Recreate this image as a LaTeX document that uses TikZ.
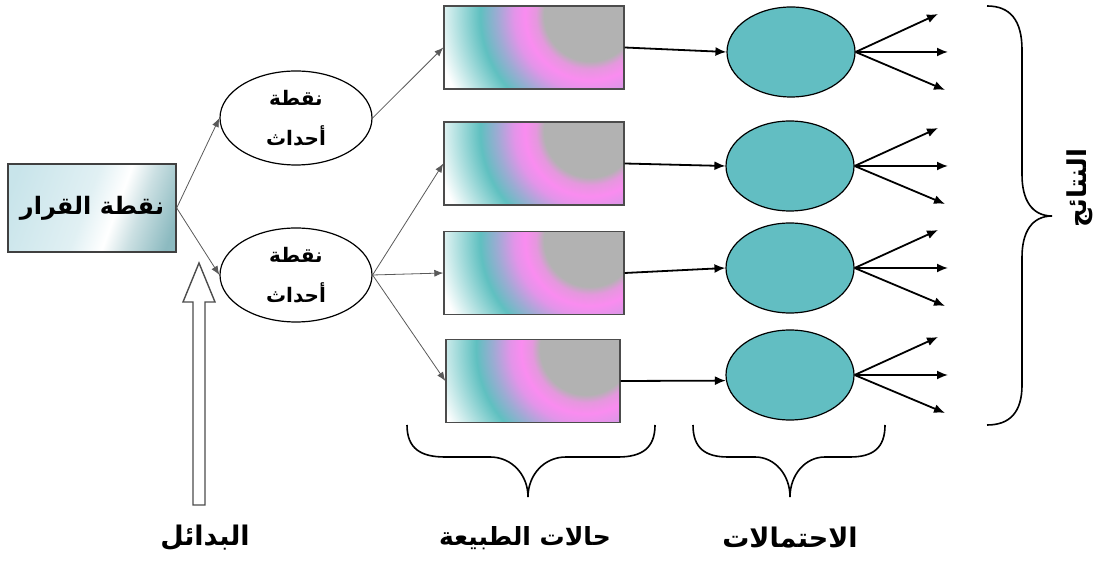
\documentclass[tikz,border=0pt]{standalone}
\usepackage{fontspec}
\TeXXeTstate=1
\newfontfamily\arabicfont[Script=Arabic]{DejaVu Sans}
\usetikzlibrary{shapes.geometric,arrows.meta,calc}
\definecolor{tealfill}{RGB}{98,190,194}
\definecolor{ringgray}{RGB}{178,178,178}
\definecolor{ringpink}{RGB}{250,140,240}
\definecolor{ringteal}{RGB}{95,192,192}
\definecolor{decA}{RGB}{200,228,234}
\definecolor{decB}{RGB}{140,186,192}
\pgfdeclareradialshading{ring}{\pgfpoint{0bp}{0bp}}{color(0bp)=(ringgray); color(4.6bp)=(ringgray); color(5.4bp)=(ringpink!70!ringgray); color(6.5bp)=(ringpink); color(7.6bp)=(ringpink!85!ringteal); color(9.3bp)=(ringpink!40!ringteal); color(11bp)=(ringteal); color(15.5bp)=(white); color(25bp)=(white)}
\pgfdeclarehorizontalshading{decshade}{100bp}{color(0bp)=(decA); color(25bp)=(decA); color(48bp)=(decA!55!white); color(57bp)=(white); color(64bp)=(decB!45!white); color(75bp)=(decB); color(100bp)=(decB)}
\begin{document}
\begin{tikzpicture}[x=0.5pt,y=-0.5pt,
  decbox/.style={draw=black!75, line width=0.7pt, minimum width=84pt, minimum height=44pt, inner sep=0pt,
    path picture={\shade[shading=decshade, shading angle=-20] ($(path picture bounding box.south west)+(-10,10)$) rectangle ($(path picture bounding box.north east)+(10,-10)$);},
    font=\arabicfont\bfseries\fontsize{12}{14}\selectfont},
  evnode/.style={ellipse, draw, line width=0.6pt, fill=white, minimum width=76pt, minimum height=47pt, inner sep=0pt, align=center, font=\arabicfont\bfseries\fontsize{10}{20}\selectfont},
  natbox/.style={draw=black!70, line width=0.7pt, minimum width=90pt, minimum height=41.5pt, inner sep=0pt,
    path picture={\shade[shading=ring] ($(path picture bounding box.north east)+(-34,9)$) ++(-250,-250) rectangle ++(500,500);}},
  probnode/.style={ellipse, draw, line width=0.6pt, fill=tealfill, minimum width=64pt, minimum height=45pt, inner sep=0pt},
  thinarrow/.style={draw=black!65, line width=0.4pt, -{Latex[length=4.5pt,width=3.5pt]}},
  thickarrow/.style={draw=black, line width=0.9pt, -{Latex[length=5.5pt,width=4.5pt]}},
  bracepath/.style={draw=black, line width=0.8pt},
  lbl/.style={font=\arabicfont\bfseries\fontsize{13.5}{16}\selectfont}]
\useasboundingbox (0,0) rectangle (1111,565);

\node[decbox] (dec) at (92,208) {\beginR نقطة القرار\endR};
\node[evnode] (e1) at (296,118) {\beginR نقطة\endR\\\beginR أحداث\endR};
\node[evnode] (e2) at (296,275) {\beginR نقطة\endR\\\beginR أحداث\endR};

\node[natbox] (r1) at (534,47.5) {};
\node[natbox] (r2) at (534,163.5) {};
\node[natbox] (r3) at (534,273) {};
\node[natbox, minimum width=87pt] (r4) at (533,381) {};

\node[probnode] (p1) at (791,52) {};
\node[probnode] (p2) at (790,166) {};
\node[probnode] (p3) at (790,268) {};
\node[probnode] (p4) at (790,375) {};

\draw[thinarrow] (dec.east) -- (e1.west);
\draw[thinarrow] (dec.east) -- (e2.west);
\draw[thinarrow] (e1.east) -- (r1.west);
\draw[thinarrow] (e2.east) -- (r2.west);
\draw[thinarrow] (e2.east) -- (r3.west);
\draw[thinarrow] (e2.east) -- (r4.west);

\draw[thickarrow] (r1.east) -- (p1.west);
\draw[thickarrow] (r2.east) -- (p2.west);
\draw[thickarrow] (r3.east) -- (p3.west);
\draw[thickarrow] (r4.east) -- (p4.185);

\foreach \i/\y in {1/52,2/166,3/268,4/375}{
  \coordinate (f\i a) at (938,\y-38);
  \coordinate (f\i b) at (948,\y);
  \coordinate (f\i c) at (945,\y+38);
  \draw[thickarrow] (p\i.east) -- (f\i a);
  \draw[thickarrow] (p\i.east) -- (f\i b);
  \draw[thickarrow] (p\i.east) -- (f\i c);
}

% hollow arrow
\draw[line width=0.7pt, draw=black!70, fill=white] (193,505) -- (193,302) -- (183,302) -- (199,263) -- (215,302) -- (205,302) -- (205,505) -- cycle;

% braces
\draw[bracepath] (987,6) .. controls (1010,6) and (1022,20) .. (1022,50) -- (1022,175) .. controls (1022,200) and (1032,216) .. (1052,216) .. controls (1032,216) and (1022,232) .. (1022,257) -- (1022,385) .. controls (1022,412) and (1010,425) .. (987,425);
\draw[bracepath] (407,425) .. controls (407,448) and (420,457) .. (445,457) -- (490,457) .. controls (512,457) and (528,475) .. (528,497) .. controls (528,475) and (544,457) .. (566,457) -- (618,457) .. controls (642,457) and (655,448) .. (655,425);
\draw[bracepath] (693,425) .. controls (693,448) and (705,457) .. (728,457) -- (755,457) .. controls (775,457) and (790,475) .. (790,497) .. controls (790,475) and (805,457) .. (825,457) -- (850,457) .. controls (873,457) and (885,448) .. (885,425);

\node[lbl] (alt) at (205,538) {\beginR البدائل\endR};
\node[lbl, font=\arabicfont\bfseries\fontsize{12.5}{15}\selectfont] (nat) at (525,538) {\beginR حالات الطبيعة\endR};
\node[lbl] (prob) at (790,538) {\beginR الاحتمالات\endR};
\node[lbl, rotate=90, font=\arabicfont\bfseries\fontsize{13}{15}\selectfont] (res) at (1080,188) {\beginR النتائج\endR};
\end{tikzpicture}
\end{document}
